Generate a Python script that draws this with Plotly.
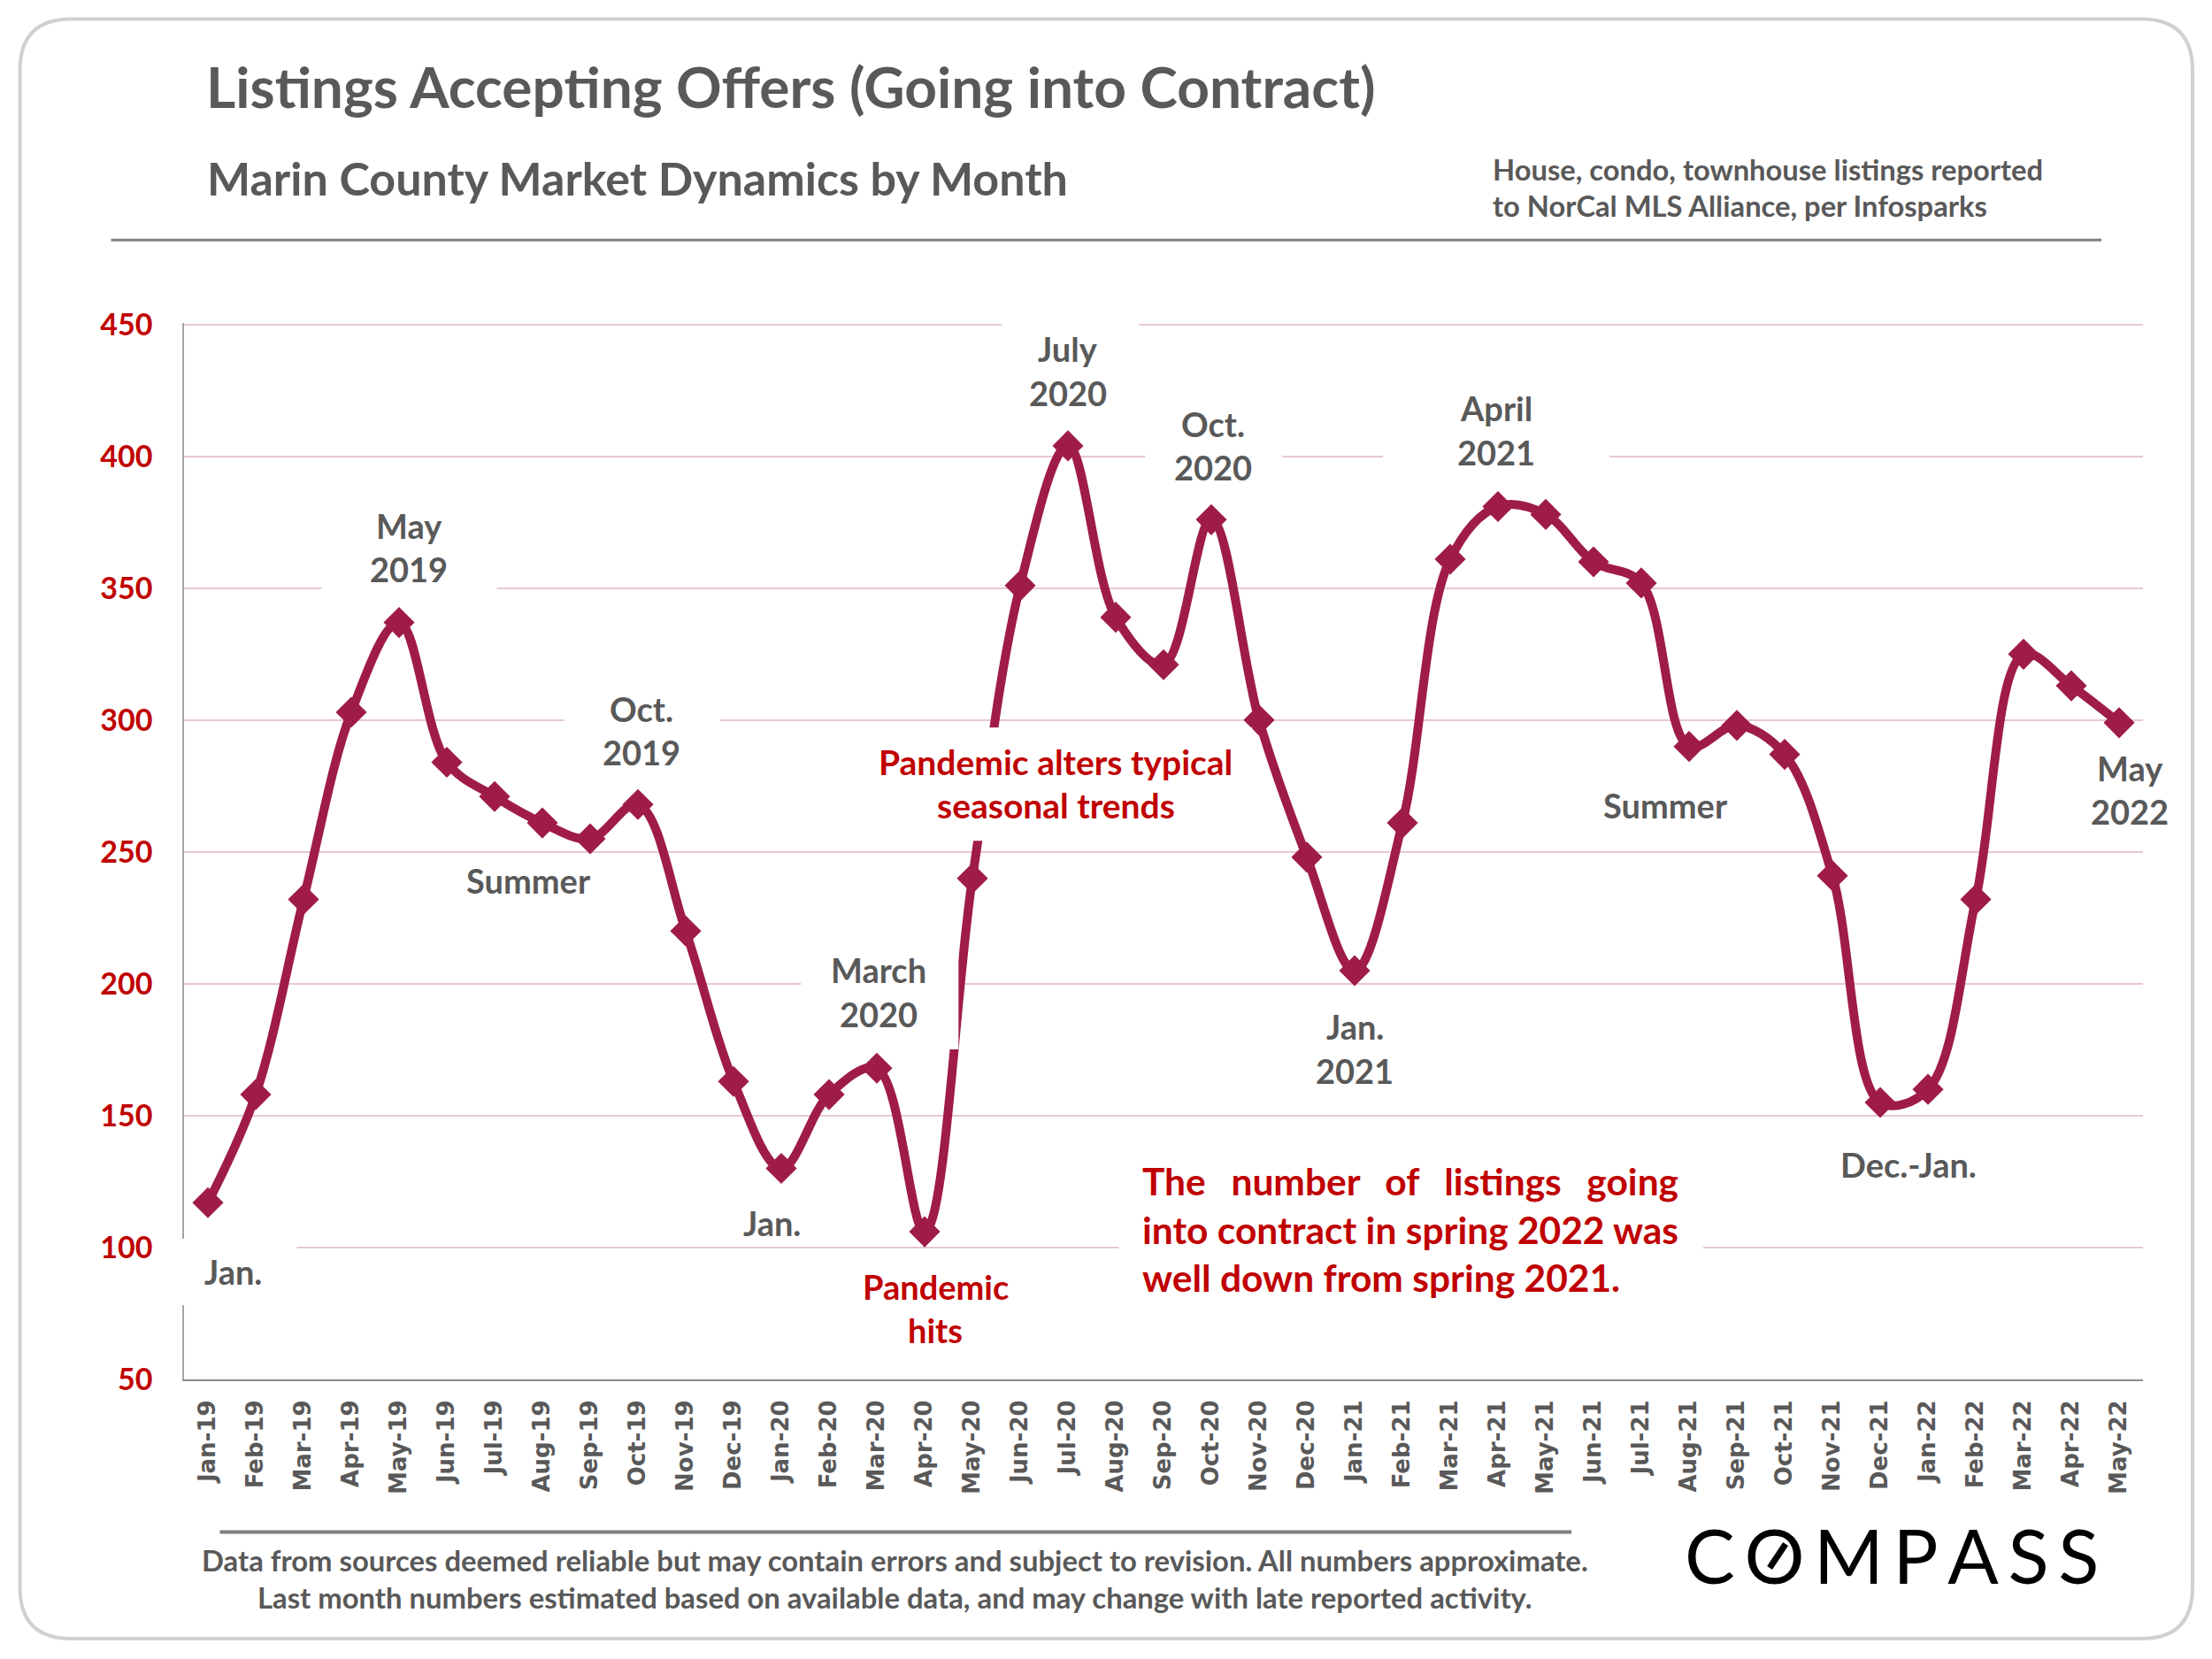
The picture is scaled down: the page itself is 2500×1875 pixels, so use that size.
#!/usr/bin/env python3
import plotly.graph_objects as go

months = ['Jan-19', 'Feb-19', 'Mar-19', 'Apr-19', 'May-19', 'Jun-19', 'Jul-19', 'Aug-19', 'Sep-19', 'Oct-19',
          'Nov-19', 'Dec-19', 'Jan-20', 'Feb-20', 'Mar-20', 'Apr-20', 'May-20', 'Jun-20', 'Jul-20', 'Aug-20',
          'Sep-20', 'Oct-20', 'Nov-20', 'Dec-20', 'Jan-21', 'Feb-21', 'Mar-21', 'Apr-21', 'May-21', 'Jun-21',
          'Jul-21', 'Aug-21', 'Sep-21', 'Oct-21', 'Nov-21', 'Dec-21', 'Jan-22', 'Feb-22', 'Mar-22', 'Apr-22',
          'May-22']
listings = [117, 158, 232, 303, 337, 284, 271, 261, 255, 268,
            220, 163, 130, 158, 168, 106, 240, 351, 404, 339,
            321, 376, 300, 248, 205, 261, 361, 381, 378, 360,
            352, 290, 298, 287, 241, 155, 160, 232, 325, 313,
            299]
y_ticks = [50, 100, 150, 200, 250, 300, 350, 400, 450]

GRAY = '#595959'
RED = '#C00000'
LINE = '#A01C48'
FONT = 'Lato'

# plot area in page pixels
L, R, T, B = 207.5, 2422, 364.7, 1559


def px(x):
    return (x - L) / (R - L)


def py(y):
    return (B - y) / (B - T)


fig = go.Figure(go.Scatter(
    x=months,
    y=listings,
    mode='lines+markers',
    line=dict(color=LINE, width=10, shape='spline', smoothing=1),
    marker=dict(symbol='diamond', size=27, color=LINE),
    hoverinfo='x+y',
))

shapes = []

# white boxes behind the callouts, they cut the gridlines and the curve
for x0, y0, x1, y1 in [(363, 560, 561, 680), (1132, 355, 1287, 470), (1294, 455, 1449, 560),
                       (1563, 440, 1819, 535), (637, 775, 814, 885), (905, 1070, 1083, 1186),
                       (975, 822, 1415, 950), (200, 1400, 335, 1475), (1264, 1305, 1925, 1475)]:
    shapes.append(dict(type='rect', xref='paper', yref='paper', layer='above',
                       x0=px(x0), x1=px(x1), y0=py(y0), y1=py(y1),
                       fillcolor='white', line_width=0))

# header and footer rules
for x0, x1, y, w in [(125, 2375, 271, 3), (248, 1776, 1731.5, 4)]:
    shapes.append(dict(type='line', xref='paper', yref='paper', layer='above',
                       x0=px(x0), x1=px(x1), y0=py(y), y1=py(y),
                       line=dict(color='#7F7F7F', width=w)))

# rounded frame
fx0, fx1, fy0, fy1, r = 22, 2478, 21, 1852, 58
frame = (f'M {px(fx0 + r)} {py(fy0)} L {px(fx1 - r)} {py(fy0)} Q {px(fx1)} {py(fy0)} {px(fx1)} {py(fy0 + r)} '
         f'L {px(fx1)} {py(fy1 - r)} Q {px(fx1)} {py(fy1)} {px(fx1 - r)} {py(fy1)} '
         f'L {px(fx0 + r)} {py(fy1)} Q {px(fx0)} {py(fy1)} {px(fx0)} {py(fy1 - r)} '
         f'L {px(fx0)} {py(fy0 + r)} Q {px(fx0)} {py(fy0)} {px(fx0 + r)} {py(fy0)} Z')
shapes.append(dict(type='path', xref='paper', yref='paper', layer='above', path=frame,
                   line=dict(color='#D0D0D0', width=4)))

# slash through the O of the logo
shapes.append(dict(type='line', xref='paper', yref='paper', layer='above',
                   x0=px(2000), x1=px(2018), y0=py(1772), y1=py(1745),
                   line=dict(color='black', width=7)))

fig.update_layout(shapes=shapes)


def label(text, x, y, color=GRAY, size=38, anchor='center', family=FONT, bold=True):
    fig.add_annotation(xref='paper', yref='paper', x=px(x), y=py(y - 2.5), text=f'<b>{text}</b>' if bold else text,
                       showarrow=False, xanchor=anchor, yanchor='middle',
                       font=dict(family=family, size=size, color=color))


# gray month callouts
label('May', 462, 596)
label('2019', 462, 645)
label('Oct.', 725, 803)
label('2019', 725, 852)
label('Summer', 597, 997)
label('March', 993, 1098)
label('2020', 993, 1148)
label('Jan.', 872, 1384)
label('Jan.', 263, 1439)
label('July', 1207, 396)
label('2020', 1207, 446)
label('Oct.', 1371, 481)
label('2020', 1371, 530)
label('April', 1691, 463)
label('2021', 1691, 513)
label('Jan.', 1531, 1162)
label('2021', 1531, 1212)
label('Summer', 1882, 912)
label('Dec.-Jan.', 2157, 1318)
label('May', 2407, 870)
label('2022', 2407, 919)

# red commentary
label('Pandemic', 1057, 1456, RED)
label('hits', 1057, 1505, RED)
label('Pandemic alters typical', 1193, 863, RED, 39)
label('seasonal trends', 1193, 912, RED, 39)
gap = '\u00a0\u00a0\u2009\u200a'
label(gap.join(['The', 'number', 'of', 'listings', 'going']), 1289, 1337, RED, 42.5, 'left')
label('into contract in spring 2022 was', 1289, 1392, RED, 42.5, 'left')
label('well down from spring 2021.', 1289, 1446, RED, 42.5, 'left')

# note and footer
label('House, condo, townhouse listings reported', 1685, 194, GRAY, 32.7, 'left')
label('to NorCal MLS Alliance, per Infosparks', 1685, 235, GRAY, 32.7, 'left')
label('Marin County Market Dynamics by Month', 232, 203, GRAY, 52, 'left')
label('Data from sources deemed reliable but may contain errors and subject to revision. All numbers approximate.',
      1011, 1766, GRAY, 32.8)
label('Last month numbers estimated based on available data, and may change with late reported activity.',
      1011, 1808, GRAY, 32.8)
label('C\u2009O\u2009M\u2009P\u2009A\u2009S\u2009S', 2138, 1760, 'black', 85, bold=False)

fig.update_layout(
    title=dict(text='<b>Listings Accepting Offers (Going into Contract)</b>',
               x=233 / 2500, xanchor='left', y=1 - 100 / 1875, yanchor='middle',
               font=dict(family=FONT, size=64, color=GRAY)),
    width=2500,
    height=1875,
    autosize=False,
    margin=dict(l=L, r=2500 - R, t=T, b=1875 - B, autoexpand=False),
    paper_bgcolor='white',
    plot_bgcolor='white',
    showlegend=False,
    xaxis=dict(type='category', range=[-0.5, len(months) - 0.5], tickangle=-90, showgrid=False,
               showline=True, linecolor='#8C8C8C', linewidth=2, ticks='', ticklabelstandoff=11,
               tickfont=dict(family='DejaVu Sans', size=26, color=GRAY, weight=700)),
    # a little past 450 so the top gridline is still drawn
    yaxis=dict(range=[50, 450.6], tickvals=y_ticks, showgrid=True, gridcolor='#E8C6D3', gridwidth=2,
               zeroline=False, showline=True, linecolor='#A6A6A6', linewidth=1.5, ticks='',
               ticklabelstandoff=27, tickfont=dict(family=FONT, size=34, color=RED, weight=700)),
)

fig.write_html("out.html", config={'displayModeBar': False}, post_script="document.body.style.margin='0';")
